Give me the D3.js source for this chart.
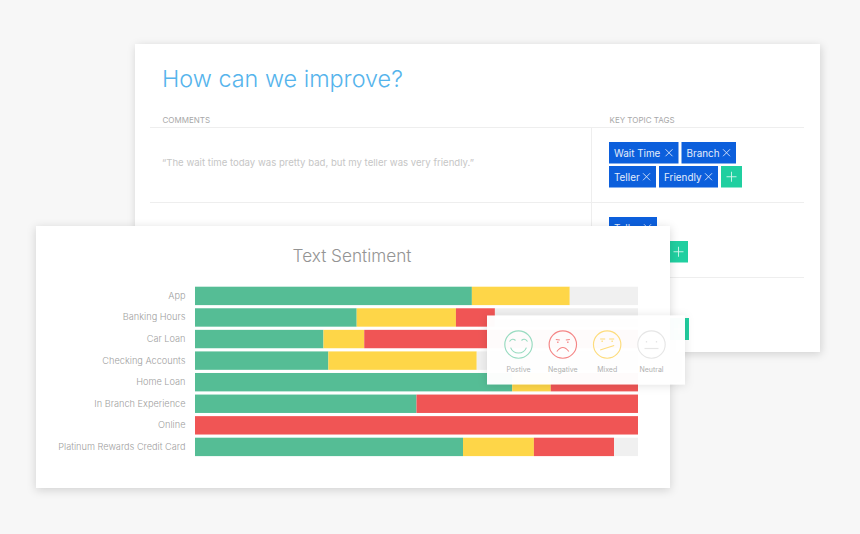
<!DOCTYPE html>
<html><head><meta charset="utf-8">
<script src="https://cdn.jsdelivr.net/npm/d3@7/dist/d3.min.js"></script>
<style>
html,body{margin:0;padding:0;background:#f7f7f7;}
svg{display:block;}
text{font-family:Inter,Roboto,sans-serif;}
</style></head><body><svg id="c" width="860" height="534"></svg>
<script>
const categories=["App","Banking Hours","Car Loan","Checking Accounts","Home Loan","In Branch Experience","Online","Platinum Rewards Credit Card"];
const positive=[62.5,36.5,29.0,30.1,71.6,50.0,0,60.5];
const mixed=[22.1,22.4,9.2,33.5,8.7,0,0,16.0];
const negative=[0,8.8,61.8,0,19.7,50.0,100,18.1];
const neutral=[15.4,32.3,0,36.4,0,0,0,5.4];
const seriesNames=["Positive","Mixed","Negative","Neutral"];
const seriesColors=["#55bd95","#fed648","#f05555","#f0f0f0"];
const legendLabels=["Postive","Negative","Mixed","Neutral"];
const legendColors=["#98dbc0","#f48686","#fddc7c","#e6e6e6"];
const title="Text Sentiment";
const heading="How can we improve?";
const comment="\u201CThe wait time today was pretty bad, but my teller was very friendly.\u201D";
const colHeaders=["COMMENTS","KEY TOPIC TAGS"];
const tagsRow1=["Wait Time","Branch"];
const tagsRow2=["Teller","Friendly"];

const svg=d3.select("#c");
const defs=svg.append("defs");
function shadow(id,dx,dy,b,o){
  const f=defs.append("filter").attr("id",id).attr("x","-10%").attr("y","-10%").attr("width","120%").attr("height","125%");
  f.append("feDropShadow").attr("dx",dx).attr("dy",dy).attr("stdDeviation",b).attr("flood-color","#000").attr("flood-opacity",o);
}
shadow("s1",1,2,4,0.16);shadow("s2",0,2,5,0.16);shadow("s3",0,1,5,0.12);
const card=(x,y,w,h,f,o=1)=>svg.append("rect").attr("x",x).attr("y",y).attr("width",w).attr("height",h).attr("fill","#fff").attr("fill-opacity",o).attr("filter",`url(#${f})`);
const line=(x1,y1,x2,y2,c="#eeeeee")=>svg.append("line").attr("x1",x1).attr("y1",y1).attr("x2",x2).attr("y2",y2).attr("stroke",c);
const txt=(x,y,s,size,fill,anchor="start",w=400)=>svg.append("text").attr("x",x).attr("y",y).attr("font-size",size).attr("fill",fill).attr("text-anchor",anchor).attr("font-weight",w).text(s);

/* back card */
card(135,44,685,308,"s1");
txt(162,86.5,heading,23.4,"#56b4ec","start",300);
txt(162.5,122.5,colHeaders[0],8,"#a8a8a8");
txt(609.5,122.5,colHeaders[1],8,"#a8a8a8");
[127.5,202.5,277.5].forEach(y=>line(150,y,804,y));
line(591.5,127,591.5,277);
txt(162,166,comment,9.6,"#c6c6c6","start",400);

function tag(x,y,w,label,h=21.5){
  const g=svg.append("g");
  g.append("rect").attr("x",x).attr("y",y).attr("width",w).attr("height",h).attr("fill","#0c5fdc");
  if(label){
    g.append("text").attr("x",x+5).attr("y",y+14.5).attr("font-size",9.9).attr("fill","#e4edfb").text(label);
    const cx=x+w-9.5,cy=y+h/2;
    g.append("path").attr("d",`M${cx-3.5},${cy-3.5}L${cx+3.5},${cy+3.5}M${cx+3.5},${cy-3.5}L${cx-3.5},${cy+3.5}`).attr("stroke","#dbe7fa").attr("stroke-width",0.9);
  }
}
function plus(x,y,w=21,h=21.5){
  svg.append("rect").attr("x",x).attr("y",y).attr("width",w).attr("height",h).attr("fill","#20cfa0");
  const cx=x+w/2,cy=y+h/2;
  svg.append("path").attr("d",`M${cx-5},${cy}H${cx+5}M${cx},${cy-5}V${cy+5}`).attr("stroke","#d6f6ec").attr("stroke-width",0.9);
}
tag(609,142,69.5,tagsRow1[0]);tag(681.5,142,54.5,tagsRow1[1]);
tag(609,166,47,tagsRow2[0]);tag(659,166,59,tagsRow2[1]);plus(721,166);
tag(609,217,48,tagsRow2[0]);plus(669,241,19);plus(669,318,20,22);

/* front card */
card(36,226,634,262,"s2");
txt(352,262,title,17.2,"#949494","middle",300);

const x=d3.scaleLinear().domain([0,100]).range([195,638]);
const y=d3.scaleBand().domain(categories).range([286.7,456.1]).paddingInner(0.147).paddingOuter(0);
const rows=categories.map((c,i)=>({cat:c,Positive:positive[i],Mixed:mixed[i],Negative:negative[i],Neutral:neutral[i]}));
const stack=d3.stack().keys(seriesNames)(rows);
const color=d3.scaleOrdinal(seriesNames,seriesColors);
svg.append("g").selectAll("g").data(stack).join("g").attr("fill",d=>color(d.key))
  .selectAll("rect").data(d=>d).join("rect")
  .attr("x",d=>x(d[0])).attr("width",d=>x(d[1])-x(d[0]))
  .attr("y",d=>y(d.data.cat)).attr("height",y.bandwidth());
const ax=svg.append("g").attr("transform","translate(195,0)").call(d3.axisLeft(y).tickSize(0).tickPadding(9.5));
ax.select(".domain").remove();
ax.selectAll("text").attr("font-size",9.2).attr("fill","#a0a0a0").attr("font-family","Inter,Roboto,sans-serif").attr("font-weight",300);

/* legend popup */
card(487,315.5,198,69,"s3",0.975);
const lx=d3.scalePoint().domain(legendLabels).range([518.5,651.5]);
const arc=(cx,cy,r,a0,a1)=>d3.arc().innerRadius(r).outerRadius(r).startAngle(a0).endAngle(a1)();
legendLabels.forEach((l,i)=>{
  const cx=lx(l),cy=344.5,col=legendColors[i];
  const g=svg.append("g").attr("transform",`translate(${cx},${cy})`).attr("fill","none").attr("stroke",col).attr("stroke-width",1.15);
  g.append("circle").attr("r",13.7);
  if(i===0){
    g.append("path").attr("d",arc(0,0,8.5,Math.PI*0.62,Math.PI*1.38));
    g.append("path").attr("d","M-9,-3 Q-6,-7 -3,-4 M3,-4 Q6,-7 9,-3");
  } else if(i===1){
    g.append("path").attr("d","M-6,7 Q0,-1 6,7");
    g.append("path").attr("d","M-7,-5 L-3,-4.5 M3,-4.5 L7,-5");
    g.append("path").attr("d","M-5,-3V-1.5 M5,-3V-1.5").attr("stroke-width",1.3);
  } else if(i===2){
    g.append("path").attr("d","M-7,5.5 L7,1");
    g.append("path").attr("d","M-7,-5.5 H-2 M2,-5.5 H7");
    g.append("path").attr("d","M-5,-4V-2.5 M5,-4V-2.5").attr("stroke-width",1.3);
  } else {
    g.append("path").attr("d","M-7,4 H7");
    g.append("path").attr("d","M-5,-3.5V-2 M5,-3.5V-2").attr("stroke-width",1.3);
  }
  txt(cx,371.5,l,7,"#b0b0b0","middle");
});
</script></body></html>
